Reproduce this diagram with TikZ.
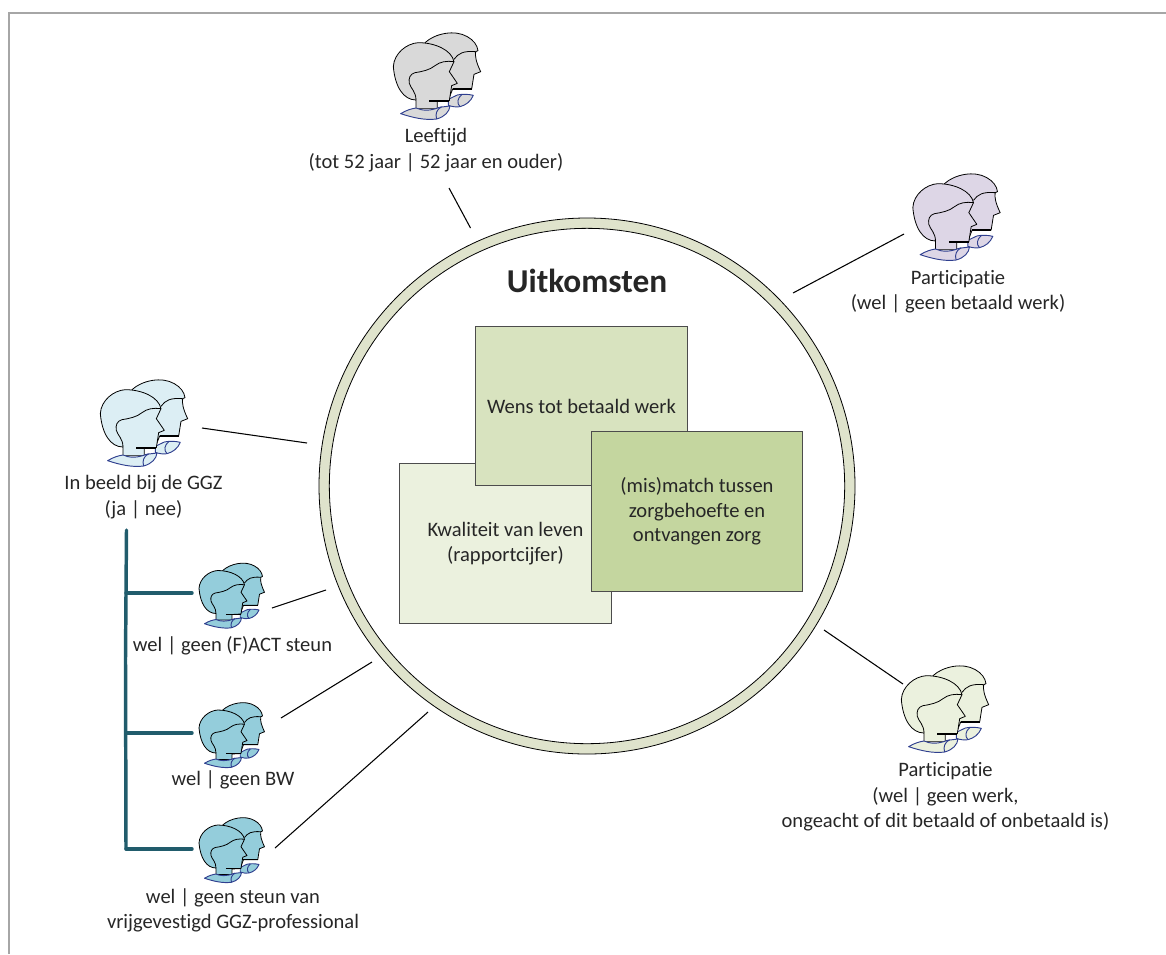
\documentclass[tikz,border=0pt]{standalone}
\usepackage{fontspec}
\setmainfont[Ligatures=NoCommon]{Carlito}

\definecolor{ringfill}{HTML}{DFE3CC}
\definecolor{tekst}{HTML}{262626}
\definecolor{boom}{HTML}{215C6C}
\definecolor{kraag}{HTML}{2F3F8F}
\definecolor{kwal}{HTML}{EBF1DE}
\definecolor{wens}{HTML}{D8E3BF}
\definecolor{match}{HTML}{C4D69F}
\definecolor{grijs}{HTML}{D9D9D9}
\definecolor{paars}{HTML}{DDD6E6}
\definecolor{lichtblauw}{HTML}{DCEEF4}
\definecolor{lichtgroen}{HTML}{EBF1DE}
\definecolor{blauw}{HTML}{94CDDB}

\tikzset{
  pics/duo/.style={code={
    \begin{scope}[scale=.3333,line join=round]
      % achterste hoofd
      \draw[fill=#1,line width=.6pt] (135,68) .. controls (165,40) and (225,28) .. (262,50)
        .. controls (280,60) and (292,75) .. (294,92) -- (287,95)
        .. controls (285,110) and (288,125) .. (302,155) -- (282,163) -- (275,207)
        -- (218,207) -- (205,240) -- (150,240) -- cycle;
      \draw[line width=.6pt] (222,118) .. controls (235,100) and (250,92) .. (287,95);
      \draw[line width=1.1pt] (218,207) -- (275,207);
      \draw[kraag,fill=#1,line width=.7pt] (205,238) -- (232,225) .. controls (245,222) and (265,222) .. (280,226)
        .. controls (272,245) and (258,255) .. (240,260)
        .. controls (230,262) and (215,260) .. (205,256) -- cycle;
      \draw[kraag,line width=.7pt] (240,260) .. controls (230,250) and (232,235) .. (245,224);
      % voorste hoofd
      \draw[fill=#1,line width=.6pt] (108,240) .. controls (70,240) and (45,200) .. (40,140)
        .. controls (42,100) and (80,70) .. (115,68) .. controls (165,68) and (215,90) .. (222,125)
        -- (208,155) -- (232,190) -- (215,197) -- (208,242) -- (172,244) -- (172,266)
        -- (108,266) -- cycle;
      \draw[line width=.6pt] (222,125) .. controls (200,122) and (180,125) .. (165,137)
        .. controls (150,150) and (125,155) .. (105,158) .. controls (90,162) and (85,175) .. (88,190)
        .. controls (92,205) and (108,215) .. (108,240);
      \draw[line width=1.1pt] (148,243) -- (208,243);
      \draw[kraag,fill=#1,line width=.7pt] (62,281) .. controls (80,270) and (95,266) .. (108,264)
        .. controls (125,272) and (150,274) .. (178,262) -- (210,258)
        .. controls (208,275) and (195,290) .. (170,297)
        .. controls (135,302) and (95,292) .. (62,281) -- cycle;
      \draw[kraag,line width=.7pt] (170,297) .. controls (165,282) and (170,268) .. (185,260);
    \end{scope}
  }},
  tekstje/.style={align=center,text=tekst,font=\fontsize{15.4}{19}\selectfont,inner sep=0pt},
  vlak/.style={draw=black!70,line width=.7pt,minimum width=158.5pt,minimum height=119.5pt,
    align=center,text=tekst,font=\fontsize{15.4}{18.5}\selectfont,inner sep=0pt},
  lijn/.style={draw=black,line width=.8pt},
  tak/.style={draw=boom,line width=2.6pt,line cap=round}
}

\begin{document}
\begin{tikzpicture}[x=.75pt,y=-.75pt]
  \useasboundingbox (0,0) rectangle (1166,954);
  \draw[black!35,line width=1.2pt] (9,954) -- (9,13) -- (1166,13);

  % ring en uitkomsten
  \node[circle,draw=black,fill=ringfill,line width=.6pt,minimum size=402pt,inner sep=0pt] (ring) at (587,486) {};
  \node[circle,draw=black,fill=white,line width=.6pt,minimum size=386.5pt,inner sep=0pt] (binnen) at (587,486) {};
  \node[text=tekst,font=\fontsize{25}{30}\selectfont\bfseries,inner sep=0pt] (titel) at (587,281) {Uitkomsten};
  \node[vlak,fill=kwal] (kwaliteit) at (505.5,543.5) {Kwaliteit van leven\\(rapportcijfer)};
  \node[vlak,fill=wens] (wensen) at (581.5,406) {Wens tot betaald werk};
  \node[vlak,fill=match] (mismatch) at (697,511.5) {(mis)match tussen\\zorgbehoefte en\\ontvangen zorg};

  % personen
  \pic at (380,20) {duo=grijs};
  \pic at (899.5,161) {duo=paars};
  \pic at (87,367) {duo=lichtblauw};
  \pic at (888,653) {duo=lichtgroen};
  \pic[scale=.75] at (189,553.5) {duo=blauw};
  \pic[scale=.75] at (189,693) {duo=blauw};
  \pic[scale=.75] at (189,808) {duo=blauw};

  \node[tekstje] (leeftijd) at (436,150) {Leeftijd\\(tot 52 jaar | 52 jaar en ouder)};
  \node[tekstje] (betaald) at (958,292) {Participatie\\(wel | geen betaald werk)};
  \node[tekstje] (ggz) at (143.5,497) {In beeld bij de GGZ\\(ja | nee)};
  \node[tekstje] (fact) at (232.5,646) {wel | geen (F)ACT steun};
  \node[tekstje] (bw) at (233,780) {wel | geen BW};
  \node[tekstje] (vrij) at (233,910) {wel | geen steun van\\vrijgevestigd GGZ-professional};
  \node[tekstje] (werk) at (945.5,797) {Participatie\\(wel | geen werk,\\ongeacht of dit betaald of onbetaald is)};

  % verbindingen
  \coordinate (a1) at (449,188);
  \coordinate (a2) at (470.5,228);
  \coordinate (b1) at (904,234);
  \coordinate (b2) at (793,293);
  \coordinate (c1) at (202,428);
  \coordinate (c2) at (307,443);
  \coordinate (d1) at (824,630);
  \coordinate (d2) at (903,684);
  \coordinate (e1) at (272,608);
  \coordinate (e2) at (326,590);
  \coordinate (f1) at (281,718);
  \coordinate (f2) at (372,662);
  \coordinate (g1) at (275,848);
  \coordinate (g2) at (428,712);
  \foreach \van/\naar in {a1/a2,b1/b2,c1/c2,d1/d2,e1/e2,f1/f2,g1/g2}
    \draw[lijn] (\van) -- (\naar);

  % boom
  \coordinate (top) at (126.5,530);
  \coordinate (knik) at (125.5,659);
  \coordinate (voet) at (126,849);
  \coordinate (t1) at (126,593);
  \coordinate (t2) at (126,733);
  \coordinate (h1) at (192,593);
  \coordinate (h2) at (192,733);
  \coordinate (h3) at (192,849);
  \draw[tak] (top) -- (knik);
  \draw[tak] (knik) -- (voet);
  \draw[tak] (t1) -- (h1);
  \draw[tak] (t2) -- (h2);
  \draw[tak] (voet) -- (h3);
\end{tikzpicture}
\end{document}
